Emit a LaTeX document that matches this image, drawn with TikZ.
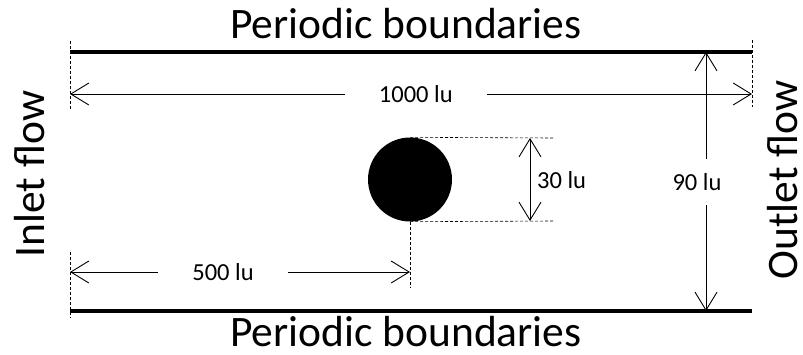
\documentclass[tikz,border=0pt]{standalone}
\usepackage{fontspec}
\setmainfont{Carlito}
\usetikzlibrary{arrows.meta,positioning}

\begin{document}
\begin{tikzpicture}[
  x=1pt, y=-1pt,
  big/.style={font=\fontsize{43.5}{48}\selectfont, inner sep=0pt, text depth=0pt},
  dimlab/.style={font=\fontsize{24.5}{28}\selectfont, fill=white, inner sep=0pt},
  wall/.style={line width=3.5pt},
  barb/.tip={Straight Barb[length=18pt, width=22pt]},
  dim/.style={barb-barb, line width=0.9pt},
  ext/.style={densely dashed, line width=0.6pt},
]
\useasboundingbox (0,0) rectangle (803,354);
% ---------------- channel walls ----------------
\coordinate (tl) at (70,52);
\coordinate (tr) at (752,52);
\coordinate (bl) at (70,311);
\coordinate (br) at (752,311);
\draw[wall] (tl) -- (tr);
\draw[wall] (bl) -- (br);
\node[big, anchor=base] (ptop) at (406,38) {Periodic boundaries};
\node[big, anchor=base] (pbot) at (406,346) {Periodic boundaries};
\node[big, rotate=90] (inlet) at (29,174) {Inlet flow};
\node[big, rotate=90] (outlet) at (782,180) {Outlet flow};

% ---------------- cylinder ----------------
\node[circle, fill=black, minimum size=84pt, inner sep=0pt] (cyl) at (410,179.5) {};

% ---------------- extension lines ----------------
\coordinate (e1a) at (70,41);   \coordinate (e1b) at (70,109);
\coordinate (e2a) at (752,40);  \coordinate (e2b) at (752,107);
\coordinate (e3a) at (70,252);  \coordinate (e3b) at (70,318);
\coordinate (c30t) at (553,138); \coordinate (c30b) at (553,221);
\coordinate (c500) at (410,288);
\draw[ext] (e1a) -- (e1b);
\draw[ext] (e2a) -- (e2b);
\draw[ext] (e3a) -- (e3b);
\draw[ext] (cyl.north) -- (c30t);
\draw[ext] (cyl.south) -- (c30b);
\draw[ext] (cyl.south) -- (c500);

% ---------------- dimensions ----------------
\coordinate (d1l) at (70,94);   \coordinate (d1r) at (752,94);
\draw[dim] (d1l) -- node[dimlab, inner xsep=34pt, pos=0.507] (l1000) {1000 lu} (d1r);
\coordinate (d2l) at (70,272);  \coordinate (d2r) at (410,272);
\draw[dim] (d2l) -- node[dimlab, inner xsep=34pt, pos=0.45] (l500) {500 lu} (d2r);
\coordinate (d3t) at (530,138); \coordinate (d3b) at (530,221);
\draw[dim] (d3t) -- (d3b);
\node[dimlab, anchor=west] (l30) at (537,180) {30 lu};
\coordinate (d4t) at (706,52);  \coordinate (d4b) at (706,311);
\draw[dim] (d4t) -- (d4b);
\node[dimlab, inner ysep=14pt, inner xsep=2pt] (l90) at (697,182) {90 lu};
\end{tikzpicture}
\end{document}
